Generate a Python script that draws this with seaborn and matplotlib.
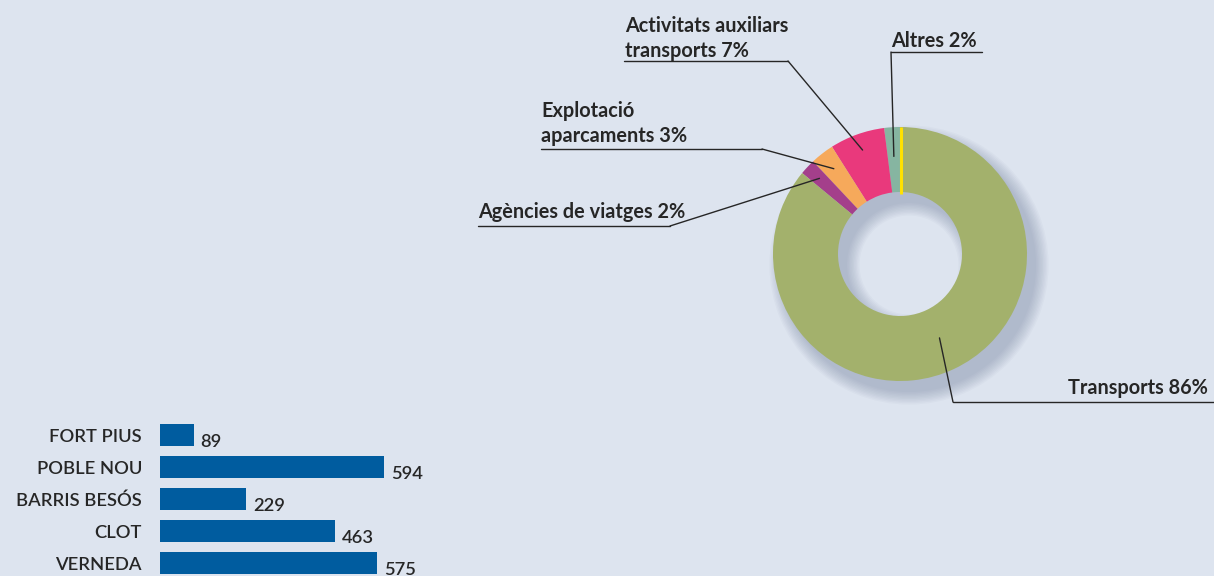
import numpy as np
import pandas as pd
import seaborn as sns
import matplotlib.pyplot as plt
from matplotlib.patches import Wedge

# donut data (counter-clockwise from 12 o'clock)
sectors = ['Altres', 'Activitats auxiliars\ntransports', 'Explotació\naparcaments',
           'Agències de viatges', 'Transports']
shares = [2, 7, 3, 2, 86]
sector_colors = ['#86b5a1', '#e9397c', '#f6a95b', '#a43f8b', '#a3b16c']

# bar data
barris = ['FORT PIUS', 'POBLE NOU', 'BARRIS BESÓS', 'CLOT', 'VERNEDA']
valors = [89, 594, 229, 463, 575]

BG = '#dde4ef'
TXT = '#262626'

sns.set_style('white')
plt.rcParams['font.family'] = ['Lato', 'DejaVu Sans']

W, H = 1214, 576
fig = plt.figure(figsize=(W / 100, H / 100), dpi=100, facecolor=BG)

# full-figure axes in pixel units for the donut
ax = fig.add_axes([0, 0, 1, 1])
ax.set_facecolor(BG)

cx, cy = 900, H - 254
R, r_in = 127, 62

# soft shadow, offset down-right
for k in range(10):
    spread = k * 1.4
    sh = Wedge((cx + 9, cy - 11), R + spread, 0, 360, width=R - r_in + 2 * spread,
               facecolor='#6a7a96', edgecolor='none', alpha=0.045, zorder=1)
    ax.add_patch(sh)

wedges, _ = ax.pie(shares, colors=sector_colors, startangle=90, counterclock=True,
                   radius=R, center=(cx, cy),
                   wedgeprops=dict(width=R - r_in, edgecolor='none', zorder=2))

# thin yellow separator at 12 o'clock
ax.plot([cx + 1, cx + 1], [cy + r_in - 2, cy + R], color='#ffe100', lw=2.2,
        solid_capstyle='butt', zorder=3)

# labels: text anchor (px), underline span (px), text alignment
pct_labels = [f'{s} {v}%' for s, v in zip(sectors, shares)]
lab_xy = [(891, 47), (625, 57), (541, 142), (478, 218), (1208, 394)]
line_y = [52, 61, 149, 226, 402]
line_x = [(891, 982), (624, 788), (541, 762), (478, 670), (953, 1214)]
elbow_x = [891, 788, 762, 670, 953]
aligns = ['left', 'left', 'left', 'left', 'right']
anchor_r = [0.77, 0.87, 0.85, 0.87, 0.73]

for i, w in enumerate(wedges):
    mid = np.deg2rad((w.theta1 + w.theta2) / 2)
    ax_x = cx + anchor_r[i] * R * np.cos(mid)
    ax_y = cy + anchor_r[i] * R * np.sin(mid)
    ly = H - line_y[i]
    ax.plot([ax_x, elbow_x[i]], [ax_y, ly], color=TXT, lw=1.0, zorder=4)
    ax.plot(line_x[i], [ly, ly], color=TXT, lw=1.0, zorder=4)
    tx, ty = lab_xy[i]
    ax.text(tx, H - ty, pct_labels[i], ha=aligns[i], va='baseline',
            fontsize=14.3, fontweight='bold', color=TXT, linespacing=1.3,
            multialignment='left', zorder=5)

ax.set_xlim(0, W)
ax.set_ylim(0, H)
ax.set_aspect('auto')
ax.axis('off')

# horizontal bar chart, bottom left
px_per_unit = 0.377
bx0, btop, bbot = 160, 419, 579
axb = fig.add_axes([bx0 / W, (H - bbot) / H, 1000 * px_per_unit / W, (bbot - btop) / H])
axb.set_facecolor('none')
df = pd.DataFrame({'barri': barris, 'valor': valors})
sns.barplot(data=df, x='valor', y='barri', orient='h', color='#005c9f',
            saturation=1, width=0.69, linewidth=0, ax=axb)
axb.set_xlim(0, 1000)
axb.set_ylim(4.5, -0.5)
for i, v in enumerate(df['valor']):
    axb.annotate(str(v), (v, i), xytext=(5, -5), textcoords='offset points',
                 ha='left', va='center', fontsize=13.2, color=TXT,
                 fontweight='semibold')
axb.tick_params(axis='y', length=0, pad=13, labelsize=13.2, labelcolor=TXT)
for t in axb.get_yticklabels():
    t.set_fontweight('semibold')
axb.set_xticks([])
axb.set_xlabel('')
axb.set_ylabel('')
sns.despine(ax=axb, left=True, bottom=True)

fig.savefig('out.png', dpi=100, facecolor=BG)
